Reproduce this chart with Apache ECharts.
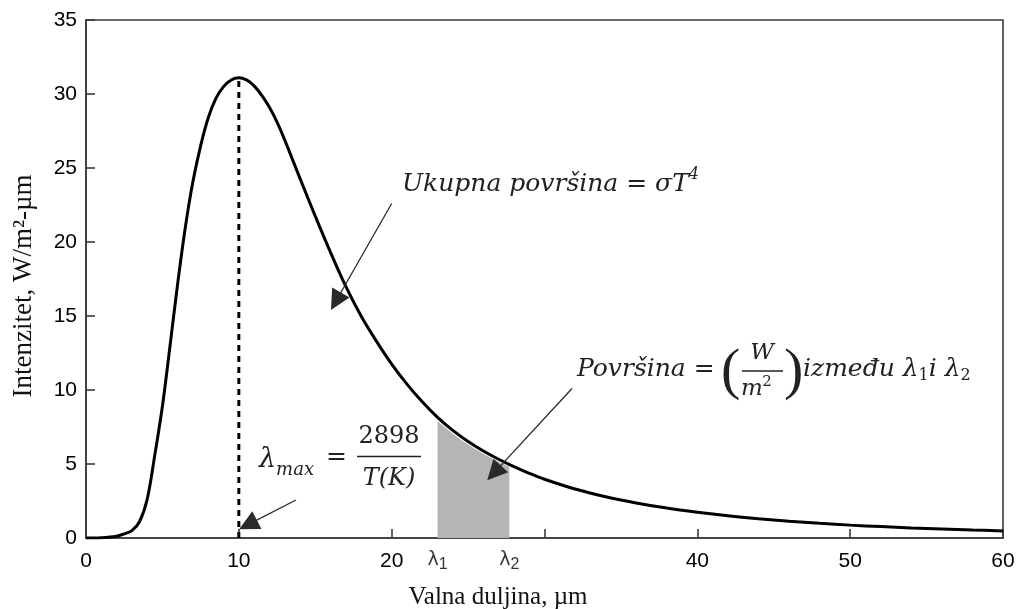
<!DOCTYPE html>
<html>
<head>
<meta charset="utf-8">
<script src="https://cdn.jsdelivr.net/npm/echarts@6/dist/echarts.min.js"></script>
<style>
html,body{margin:0;padding:0;background:#fff;}
#chart{width:1019px;height:609px;}
</style>
</head>
<body>
<div id="chart"></div>
<script>
// ---- data ----
const wavelength = [0,1,2,2.5,3,3.5,4,4.5,5,5.5,6,6.5,7,7.5,8,8.5,9,9.5,10,10.5,11,11.5,12,12.5,13,14,15,16,17,18,19,20,21,22,23,24,25,26,27,28,29,30,32,34,36,38,40,42,44,46,48,50,52,54,56,58,60];
const intensity  = [0,0.02,0.12,0.28,0.5,1.1,2.6,5.6,8.9,13.0,17.2,21.0,24.1,26.5,28.4,29.7,30.5,30.95,31.1,30.95,30.55,29.9,29.1,28.1,26.9,24.3,21.75,19.3,17.0,15.0,13.3,11.75,10.4,9.2,8.15,7.27,6.52,5.88,5.32,4.82,4.37,3.97,3.31,2.79,2.37,2.02,1.74,1.5,1.3,1.13,0.99,0.87,0.77,0.68,0.61,0.54,0.48];
const shadeX = [23, 24, 25, 26, 27, 27.7];
const shadeY = [7.9, 7.05, 6.32, 5.7, 5.16, 4.84];
const lambdaMax = 10;
const peakValue = 31.1;
const bandLabels = [[23, '1'], [27.7, '2']];
const xTicks = ['0','10','20','','40','50','60'];
const yTicks = ['0','5','10','15','20','25','30','35'];
const arrowTotal = [[20.0, 22.6], [16.35, 16.0]];
const arrowBand  = [[31.8, 10.1], [26.7, 4.4]];
const arrowPeak  = [[13.74, 2.57], [10.6, 0.9]];

const curve = wavelength.map((x, i) => [x, intensity[i]]);
const shade = shadeX.map((x, i) => [x, shadeY[i]]);

const chart = echarts.init(document.getElementById('chart'), null, {renderer: 'canvas'});
const serif = '"DejaVu Serif", serif';
const tri = 'path://M5,0 L10,22 L0,22 Z';
function arrow(a) {
  return [{coord: a[0], symbol: 'none'}, {coord: a[1], symbol: tri, symbolSize: 20}];
}
// lay out a run of text pieces side by side (annotation typography)
const mctx = document.createElement('canvas').getContext('2d');
function run(x, y, parts) {
  const out = [];
  let cx = x;
  parts.forEach(p => {
    const [t, font, dy] = p;
    mctx.font = font;
    out.push({type: 'text', x: cx, y: y + (dy || 0), silent: true,
      style: {text: t, font: font, fill: '#222', verticalAlign: 'middle'}});
    cx += mctx.measureText(t).width;
  });
  return out;
}
const it25 = 'italic 25px ' + serif;
const it16 = 'italic 16px ' + serif;
const graphics = [].concat(
  run(402, 184, [['Ukupna površina = \u03c3', it25], ['T', it25], ['4', it16, -9]]),
  run(577, 369, [['Površina =', it25]]),
  [
    {type: 'text', x: 721, y: 373, style: {text: '(', font: '58px "Liberation Serif", serif', fill: '#222', verticalAlign: 'middle'}},
    {type: 'text', x: 762, y: 353, style: {text: 'W', font: 'italic 23px ' + serif, fill: '#222', align: 'center', verticalAlign: 'middle'}},
    {type: 'line', shape: {x1: 742, y1: 371, x2: 783, y2: 371}, style: {stroke: '#222', lineWidth: 1.3}},
    {type: 'text', x: 752, y: 389, style: {text: 'm', font: 'italic 23px ' + serif, fill: '#222', verticalAlign: 'middle', align: 'center'}},
    {type: 'text', x: 767, y: 382, style: {text: '2', font: '15px ' + serif, fill: '#222', verticalAlign: 'middle', align: 'center'}},
    {type: 'text', x: 784, y: 373, style: {text: ')', font: '58px "Liberation Serif", serif', fill: '#222', verticalAlign: 'middle'}}
  ],
  run(803, 369, [['između ', it25], ['\u03bb', it25], ['1', '16px ' + serif, 7], ['i ', it25], ['\u03bb', it25], ['2', '16px ' + serif, 7]]),
  run(259, 460, [['\u03bb', 'italic 27px ' + serif], ['max', 'italic 18px ' + serif, 10]]),
  [
    {type: 'text', x: 326, y: 457, style: {text: '=', font: '25px ' + serif, fill: '#222', verticalAlign: 'middle'}},
    {type: 'text', x: 389, y: 437, style: {text: '2898', font: '24px ' + serif, fill: '#222', align: 'center', verticalAlign: 'middle'}},
    {type: 'line', shape: {x1: 357, y1: 456.5, x2: 421, y2: 456.5}, style: {stroke: '#222', lineWidth: 1.3}},
    {type: 'text', x: 389, y: 479, style: {text: 'T(K)', font: 'italic 24px ' + serif, fill: '#222', align: 'center', verticalAlign: 'middle'}},
    {type: 'text', x: 498, y: 597, style: {text: 'Valna duljina, \u00b5m', font: '25px "Liberation Serif", "Times New Roman", serif', fill: '#111', align: 'center', verticalAlign: 'middle'}},
    {type: 'text', x: 24, y: 286, rotation: Math.PI / 2, style: {text: 'Intenzitet, W/m\u00b2-\u00b5m', font: '27px "Liberation Serif", "Times New Roman", serif', fill: '#111', align: 'center', verticalAlign: 'middle'}}
  ]
);

const option = {
  animation: false,
  backgroundColor: '#fff',
  grid: {left: 86, right: 16, top: 20, bottom: 71, show: true, borderColor: '#3a3a3a', borderWidth: 1.6, backgroundColor: 'transparent'},
  xAxis: {
    type: 'value', min: 0, max: 60, interval: 10,
    axisLine: {show: true, lineStyle: {color: '#3a3a3a', width: 1.6}},
    axisTick: {show: true, inside: true, length: 9, lineStyle: {color: '#3a3a3a', width: 1.6}},
    splitLine: {show: false},
    axisLabel: {fontFamily: '"Liberation Sans", Arial, sans-serif', fontSize: 21, color: '#000', margin: 13,
      formatter: v => xTicks[Math.round(v / 10)] || ''}
  },
  yAxis: {
    type: 'value', min: 0, max: 35, interval: 5,
    axisLine: {show: true, lineStyle: {color: '#3a3a3a', width: 1.6}},
    axisTick: {show: true, inside: true, length: 9, lineStyle: {color: '#3a3a3a', width: 1.6}},
    splitLine: {show: false},
    axisLabel: {fontFamily: '"Liberation Sans", Arial, sans-serif', fontSize: 21, color: '#000', margin: 9,
      formatter: v => yTicks[Math.round(v / 5)]}
  },
  series: [
    {
      type: 'line', data: shade, showSymbol: false, symbol: 'none', smooth: 0.3,
      lineStyle: {width: 0}, areaStyle: {color: '#b5b5b5', opacity: 1}, z: 1
    },
    {
      type: 'line', data: curve, showSymbol: false, symbol: 'none', smooth: 0.35,
      lineStyle: {color: '#000', width: 3}, z: 3,
      markLine: {
        silent: true, symbol: ['none', tri], symbolSize: 20,
        lineStyle: {color: '#2a2a2a', width: 1.3, type: 'solid'},
        label: {show: false},
        itemStyle: {color: '#000'},
        data: [arrow(arrowTotal), arrow(arrowBand), arrow(arrowPeak)]
      }
    },
    {
      type: 'line', data: [[lambdaMax, 0], [lambdaMax, peakValue]], showSymbol: false, symbol: 'none',
      lineStyle: {color: '#000', width: 3, type: [6, 5]}, z: 2
    },
    {
      type: 'scatter', data: bandLabels.map(b => [b[0], 0, b[1]]), symbolSize: 0, clip: false,
      label: {show: true, position: 'bottom', distance: 9, formatter: p => '{l|\u03bb}{s|' + p.data[2] + '}',
        rich: {
          l: {fontFamily: '"DejaVu Sans", sans-serif', fontSize: 19, color: '#000', lineHeight: 26, verticalAlign: 'middle'},
          s: {fontFamily: '"Liberation Sans", sans-serif', fontSize: 16, color: '#000', lineHeight: 26, verticalAlign: 'bottom'}
        }}, z: 4
    }
  ],
  graphic: graphics
};
chart.setOption(option);
</script>
</body>
</html>
